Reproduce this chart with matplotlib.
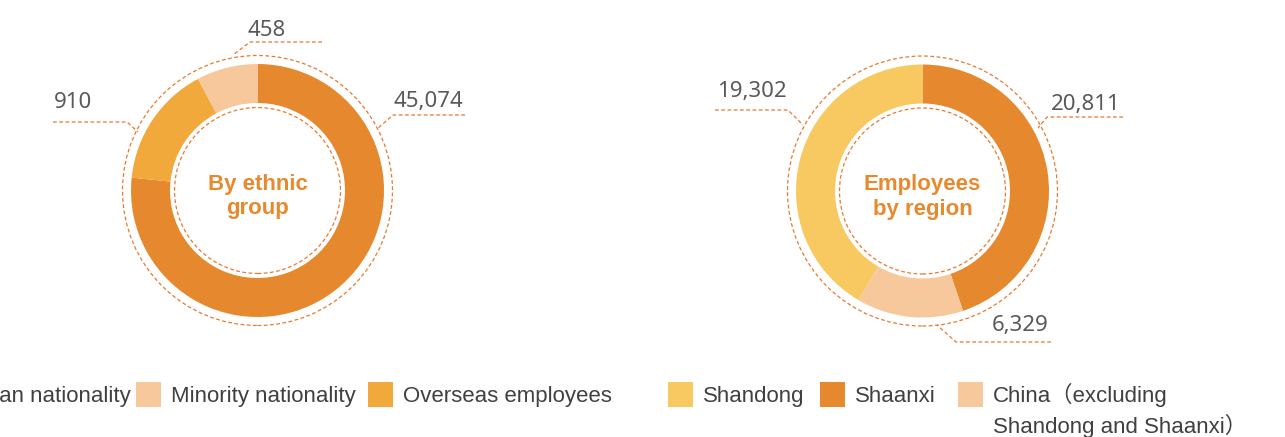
import matplotlib.pyplot as plt
from matplotlib.patches import Circle, Rectangle

# Data
ethnic_groups = ["Han nationality", "Minority nationality", "Overseas employees"]
ethnic_values = [45074, 458, 910]
# share of the ring each slice takes in the picture (not drawn to scale there)
ethnic_arc_share = [76.7, 7.8, 15.6]
ethnic_colors = ["#E6892E", "#F7C89B", "#F2A93B"]
ethnic_draw_order = [0, 2, 1]

regions = ["Shandong", "Shaanxi", "China\uff08excluding\nShandong and Shaanxi\uff09"]
region_values = [19302, 20811, 6329]
region_colors = ["#F8C961", "#E6892E", "#F7C89B"]
region_draw_order = [1, 2, 0]

W, H = 1285, 437


def Y(p):
    # pixel row -> axes y
    return H - p


fig = plt.figure(figsize=(W / 100, H / 100), dpi=100)
ax = fig.add_axes([0, 0, 1, 1])

ORANGE_LINE = "#E8792E"
NUM_COLOR = "#595959"
dash = (0, (3, 2))


def donut(ax, sizes, colors, center, title, labels_layout):
    cx, cy = center
    ax.pie(sizes, colors=colors, startangle=90, counterclock=False,
           radius=126.5, center=(cx, Y(cy)),
           wedgeprops=dict(width=39, linewidth=0))
    ax.add_patch(Circle((cx, Y(cy)), 135, fill=False, ec=ORANGE_LINE,
                        lw=0.9, ls=dash))
    ax.add_patch(Circle((cx, Y(cy)), 83, fill=False, ec=ORANGE_LINE,
                        lw=0.9, ls=dash))
    ax.text(cx, Y(cy + 6), title, ha="center", va="center", fontsize=16,
            fontweight="bold", color="#E8892E", family="Liberation Sans",
            linespacing=1.2)
    # value labels with dashed leader lines
    for text, (tx, base), (x0, x1, ly), (px, py) in labels_layout:
        ax.text(tx, Y(base), text, ha="center", va="baseline", fontsize=16,
                color=NUM_COLOR, family="Noto Sans")
        ax.plot([x1, x0, px], [Y(ly), Y(ly), Y(py)], color=ORANGE_LINE,
                lw=0.9, ls=dash)


fmt = lambda v: f"{v:,}"

# left donut
left_layout = [
    (fmt(ethnic_values[0]), (428, 107), (393, 465, 115), (377, 129)),
    (fmt(ethnic_values[1]), (267, 36), (250, 322, 42), (233, 55)),
    (fmt(ethnic_values[2]), (73, 108), (127, 53, 122), (138, 132)),
]
donut(ax, [ethnic_arc_share[i] for i in ethnic_draw_order],
      [ethnic_colors[i] for i in ethnic_draw_order],
      (257.5, 190.5), "By ethnic\ngroup", left_layout)

# right donut
right_layout = [
    (fmt(region_values[0]), (752, 96.5), (788, 715, 110), (803, 125)),
    (fmt(region_values[1]), (1086, 110), (1047, 1123, 117), (1038, 128)),
    (fmt(region_values[2]), (1020, 330.5), (956, 1051, 342), (937, 325)),
]
donut(ax, [region_values[i] for i in region_draw_order],
      [region_colors[i] for i in region_draw_order],
      (922.5, 191), "Employees\nby region", right_layout)

# legends
LEG_COLOR = "#404040"
left_leg_x = [-17, 171, 403]
right_leg_x = [703, 855, 993]


def legend_row(labels, colors, xs):
    for lab, col, x in zip(labels, colors, xs):
        ax.add_patch(Rectangle((x - 35, Y(406.5)), 25, 24.5, color=col, lw=0))
        for k, line in enumerate(lab.split("\n")):
            ax.text(x, Y(402 + 31 * k), line, ha="left", va="baseline",
                    fontsize=16, color=LEG_COLOR,
                    family=["Liberation Sans", "Noto Sans CJK SC"])


legend_row(ethnic_groups, ethnic_colors, left_leg_x)
legend_row(regions, region_colors, right_leg_x)

ax.set_xlim(0, W)
ax.set_ylim(0, H)
ax.set_aspect("equal")
ax.axis("off")

fig.savefig("out.png", dpi=100)
